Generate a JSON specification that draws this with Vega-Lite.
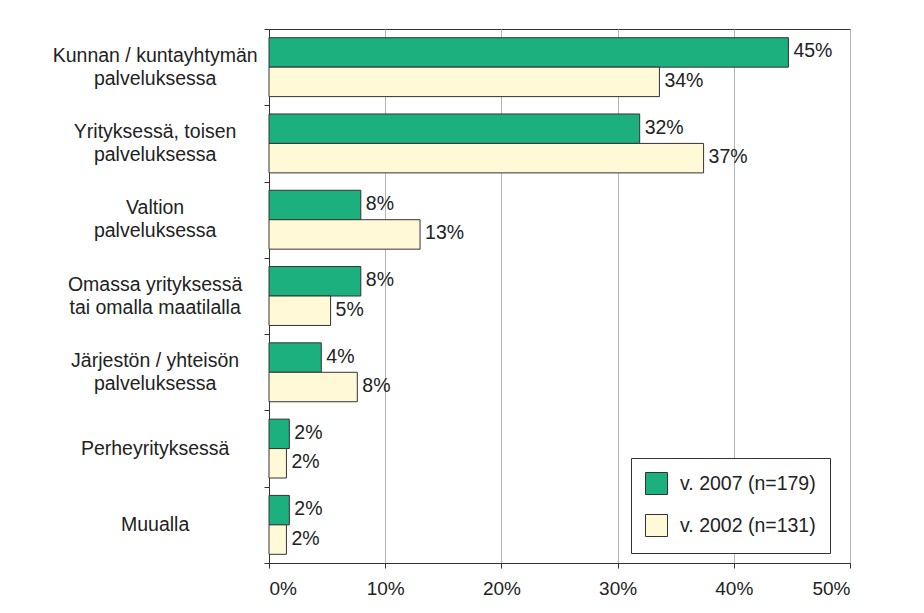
{
  "$schema": "https://vega.github.io/schema/vega-lite/v6.json",
  "width": 581,
  "height": 534,
  "autosize": {"type": "none"},
  "padding": {"left": 269, "top": 29, "right": 74, "bottom": 50},
  "background": "white",
  "config": {
    "font": "Liberation Sans",
    "view": {"stroke": "#333333", "strokeWidth": 1}
  },
  "data": {
    "values": [
      {"category": "Kunnan / kuntayhtymän palveluksessa", "lines": ["Kunnan / kuntayhtymän", "palveluksessa"], "series": "v. 2007 (n=179)", "value": 44.7, "label": "45%"},
      {"category": "Kunnan / kuntayhtymän palveluksessa", "lines": ["Kunnan / kuntayhtymän", "palveluksessa"], "series": "v. 2002 (n=131)", "value": 33.6, "label": "34%"},
      {"category": "Yrityksessä, toisen palveluksessa", "lines": ["Yrityksessä, toisen", "palveluksessa"], "series": "v. 2007 (n=179)", "value": 31.9, "label": "32%"},
      {"category": "Yrityksessä, toisen palveluksessa", "lines": ["Yrityksessä, toisen", "palveluksessa"], "series": "v. 2002 (n=131)", "value": 37.4, "label": "37%"},
      {"category": "Valtion palveluksessa", "lines": ["Valtion", "palveluksessa"], "series": "v. 2007 (n=179)", "value": 7.9, "label": "8%"},
      {"category": "Valtion palveluksessa", "lines": ["Valtion", "palveluksessa"], "series": "v. 2002 (n=131)", "value": 13.0, "label": "13%"},
      {"category": "Omassa yrityksessä tai omalla maatilalla", "lines": ["Omassa yrityksessä", "tai omalla maatilalla"], "series": "v. 2007 (n=179)", "value": 7.9, "label": "8%"},
      {"category": "Omassa yrityksessä tai omalla maatilalla", "lines": ["Omassa yrityksessä", "tai omalla maatilalla"], "series": "v. 2002 (n=131)", "value": 5.3, "label": "5%"},
      {"category": "Järjestön / yhteisön palveluksessa", "lines": ["Järjestön / yhteisön", "palveluksessa"], "series": "v. 2007 (n=179)", "value": 4.5, "label": "4%"},
      {"category": "Järjestön / yhteisön palveluksessa", "lines": ["Järjestön / yhteisön", "palveluksessa"], "series": "v. 2002 (n=131)", "value": 7.6, "label": "8%"},
      {"category": "Perheyrityksessä", "lines": ["Perheyrityksessä"], "series": "v. 2007 (n=179)", "value": 1.75, "label": "2%"},
      {"category": "Perheyrityksessä", "lines": ["Perheyrityksessä"], "series": "v. 2002 (n=131)", "value": 1.5, "label": "2%"},
      {"category": "Muualla", "lines": ["Muualla"], "series": "v. 2007 (n=179)", "value": 1.75, "label": "2%"},
      {"category": "Muualla", "lines": ["Muualla"], "series": "v. 2002 (n=131)", "value": 1.5, "label": "2%"}
    ]
  },
  "layer": [
    {
      "mark": {"type": "bar", "stroke": "#333333", "strokeWidth": 1, "opacity": 1},
      "encoding": {
        "y": {
          "field": "category",
          "type": "nominal",
          "sort": null,
          "scale": {"paddingInner": 0, "paddingOuter": 0},
          "axis": {
            "title": null,
            "domain": true,
            "domainColor": "#333333",
            "ticks": true,
            "tickBand": "extent",
            "tickSize": 5,
            "tickColor": "#333333",
            "labels": false,
            "grid": false
          }
        },
        "yOffset": {
          "field": "series",
          "type": "nominal",
          "scale": {"domain": ["v. 2007 (n=179)", "v. 2002 (n=131)"], "paddingInner": 0, "paddingOuter": 0.295}
        },
        "x": {
          "field": "value",
          "type": "quantitative",
          "scale": {"domain": [0, 50], "nice": false},
          "axis": {
            "title": null,
            "values": [0, 10, 20, 30, 40, 50],
            "labelExpr": "datum.value + '%'",
            "grid": true,
            "gridColor": "#b4b4b4",
            "gridWidth": 1,
            "domainColor": "#333333",
            "tickColor": "#333333",
            "tickSize": 5,
            "labelFontSize": 19,
            "labelColor": "#222222",
            "labelPadding": 11
          }
        },
        "color": {
          "field": "series",
          "type": "nominal",
          "scale": {"domain": ["v. 2007 (n=179)", "v. 2002 (n=131)"], "range": ["#1cb07e", "#fff9d8"]},
          "legend": {
            "title": null,
            "orient": "none",
            "legendX": 362,
            "legendY": 429,
            "fillColor": "white",
            "strokeColor": "#333333",
            "padding": 14,
            "symbolType": "square",
            "symbolSize": 484,
            "symbolStrokeColor": "#333333",
            "symbolStrokeWidth": 1,
            "symbolOpacity": 1,
            "labelFontSize": 19.5,
            "labelColor": "#222222",
            "labelOffset": 12,
            "rowPadding": 15,
            "labelLimit": 0
          }
        }
      }
    },
    {
      "mark": {"type": "text", "align": "left", "baseline": "middle", "dx": 5, "dy": -1, "fontSize": 19.5, "color": "#222222"},
      "encoding": {
        "y": {"field": "category", "type": "nominal", "sort": null},
        "yOffset": {"field": "series", "type": "nominal"},
        "x": {"field": "value", "type": "quantitative"},
        "text": {"field": "label"}
      }
    },
    {
      "transform": [{"filter": "datum.series == 'v. 2007 (n=179)'"}],
      "mark": {
        "type": "text",
        "align": "center",
        "baseline": "middle",
        "fontSize": 19.5,
        "lineHeight": 23,
        "color": "#222222",
        "dy": {"expr": "length(datum.lines) > 1 ? -11.5 : 0"}
      },
      "encoding": {
        "y": {"field": "category", "type": "nominal", "sort": null},
        "x": {"datum": -9.8},
        "text": {"field": "lines"}
      }
    }
  ]
}
